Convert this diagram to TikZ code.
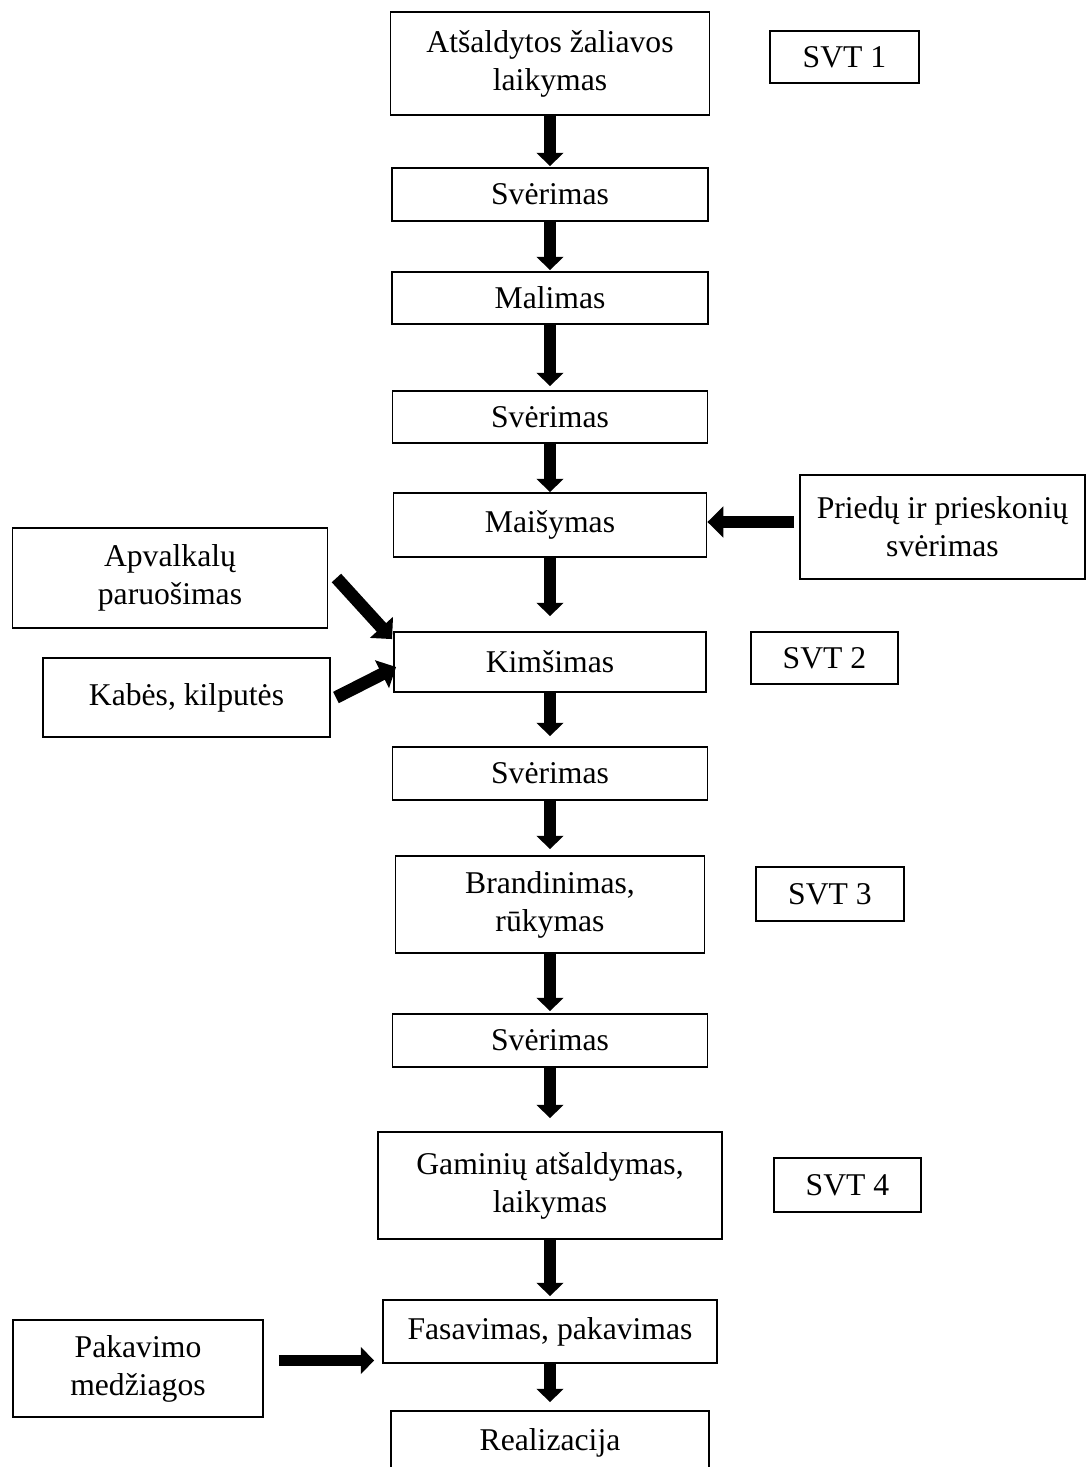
\documentclass[tikz,border=0pt]{standalone}
\usepackage{fontspec}
\setmainfont{Liberation Serif}
\usetikzlibrary{arrows.meta,calc}
\tikzset{
  wh/.style 2 args={minimum width=#1*0.379pt,minimum height=#2*0.379pt},
  box/.style={draw,line width=0.7pt,rectangle,inner sep=0pt,align=center,font=\fontsize{12}{14.4}\selectfont},
  arr/.style={line width=4.2pt,-{Triangle[width=10pt,length=5pt]}},
  sidearr/.style={line width=4.8pt,-{Triangle[width=11.5pt,length=6pt]}}
}
\begin{document}
\begin{tikzpicture}[x=0.379pt,y=-0.379pt]
\useasboundingbox (0,0) rectangle (1086,1467);
\clip (0,0) rectangle (1086,1467);

\node[box,wh={319}{103}] (start) at (550,63.5) {Atšaldytos žaliavos\\laikymas};
\node[box,wh={149}{52}] (svt1) at (844.5,57) {SVT 1};
\node[box,wh={316}{53}] (sver1) at (550,194.5) {Svėrimas};
\node[box,wh={316}{52}] (malim) at (550,298) {Malimas};
\node[box,wh={315}{52}] (sver2) at (550,417) {Svėrimas};
\node[box,wh={313}{64}] (maisym) at (550,525) {Maišymas};
\node[box,wh={285}{104}] (pried) at (942.5,527) {Priedų ir prieskonių\\svėrimas};
\node[box,wh={315}{100}] (apval) at (170,578) {Apvalkalų\\paruošimas};
\node[box,wh={312}{60}] (kimsim) at (550,662) {Kimšimas};
\node[box,wh={147}{52}] (svt2) at (824.5,658) {SVT 2};
\node[box,wh={287}{79}] (kabes) at (186.5,697.5) {Kabės, kilputės};
\node[box,wh={315}{53}] (sver3) at (550,773.5) {Svėrimas};
\node[box,wh={309}{97}] (brand) at (550,904.5) {Brandinimas,\\rūkymas};
\node[box,wh={148}{54}] (svt3) at (830,894) {SVT 3};
\node[box,wh={315}{53}] (sver4) at (550,1040.5) {Svėrimas};
\node[box,wh={344}{107}] (gamin) at (550,1185.5) {Gaminių atšaldymas,\\laikymas};
\node[box,wh={147}{54}] (svt4) at (847.5,1185) {SVT 4};
\node[box,wh={334}{63}] (fasav) at (550,1331.5) {Fasavimas, pakavimas};
\node[box,wh={250}{97}] (pakav) at (138,1368.5) {Pakavimo\\medžiagos};
\node[box,wh={318}{64}] (realiz) at (550,1443) {Realizacija};

\foreach \a/\b/\g in {start/sver1/1,sver1/malim/1,malim/sver2/4,sver2/maisym/0,maisym/kimsim/15,kimsim/sver3/10,sver3/brand/6,brand/sver4/2,sver4/gamin/13,gamin/fasav/3,fasav/realiz/8}
  \draw[arr,shorten >=\g*0.379pt] (\a) -- (\b);

\draw[sidearr] ($(pried.west)+(-5,-5)$) -- ($(maisym.east)+(0,-3)$);
\draw[sidearr] ($(apval.east)+(8,0)$) -- ($(kimsim.north west)+(-1,8)$);
\draw[sidearr] ($(kabes.east)+(5,0)$) -- ($(kimsim.west)+(3,5)$);
\draw[arr] ($(pakav.east)+(15,-8)$) -- ($(fasav.west |- pakav.east)+(-8,-8)$);

\end{tikzpicture}
\end{document}
